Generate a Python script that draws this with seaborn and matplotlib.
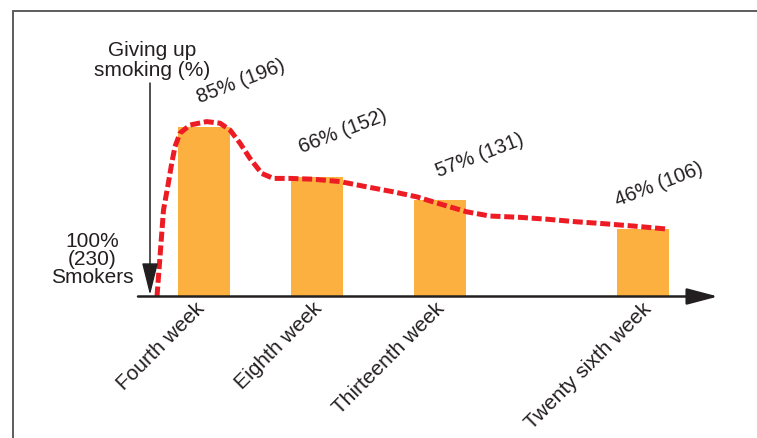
import matplotlib
matplotlib.use("Agg")
import matplotlib.pyplot as plt
from matplotlib.lines import Line2D
from matplotlib.transforms import ScaledTranslation
import pandas as pd
import seaborn as sns

# ---- data -------------------------------------------------------------
weeks = ["Fourth week", "Eighth week", "Thirteenth week", "Twenty sixth week"]
quit_pct = [85, 66, 57, 46]          # % who gave up smoking
quit_count = [196, 152, 131, 106]    # number who gave up smoking
total_smokers = 230

# hand-drawn trend line running over the bars (x in slot units, y in %)
trend_x = [157, 163.5, 168.3, 171.7, 175, 180, 190, 206.7, 220, 230, 240,
           250, 261.7, 273.3, 290, 313.3, 340, 366.7, 393.3, 416.7, 440,
           466.7, 490, 520, 546.7, 576.7, 600, 633, 668.3]
trend_pct = [20.4, 53.3, 63.4, 71.0, 77.4, 82.5, 85.6, 86.9, 86.3, 83.7, 78.7,
             72.9, 67.2, 65.3, 65.3, 65.0, 64.1, 62.1, 60.2, 58.3, 55.6,
             52.6, 51.0, 50.5, 49.8, 48.8, 48.2, 47.2, 46.0]

# ---- layout -----------------------------------------------------------
W, H, DPI = 757, 438, 100
slot_x = [204, 316.5, 440, 643]       # schematic (non-proportional) spacing
label_dx = [37, 26, 40, 16]           # nudges for the value labels
tick_dx = [-2, 3, 2, 5]               # nudges for the category labels (px)
base_px = 296.5                       # baseline height in pixels from the top
y0 = 20.4                             # % value sitting on the baseline
px_per_pct = 2.63

ink = "#231f20"
bar_col = "#fbb040"
line_col = "#ed1c24"

sns.set_theme(style="white")
plt.rcParams["font.family"] = ["Liberation Sans", "DejaVu Sans"]

fig = plt.figure(figsize=(W / DPI, H / DPI), dpi=DPI)
bottom = 1 - base_px / H
ax = fig.add_axes([0, bottom, 1, 1 - bottom])
ax.set_facecolor("none")

df = pd.DataFrame({"slot": slot_x, "pct": quit_pct, "week": weeks})
sns.barplot(data=df, x="slot", y="pct", native_scale=True,
            width=52 / 112.5, color=bar_col, saturation=1, errorbar=None,
            linewidth=0, ax=ax)

trend = pd.DataFrame({"x": trend_x, "y": trend_pct})
sns.lineplot(data=trend, x="x", y="y", estimator=None, sort=False,
             color=line_col, lw=3.6, dashes=False, ax=ax)
tl = ax.lines[-1]
tl.set_dashes((2.0, 0.75))
tl.set_dash_capstyle("butt")
tl.set_solid_joinstyle("round")
tl.set_clip_on(False)

ax.set_xlim(0, W)
ax.set_ylim(y0, y0 + base_px / px_per_pct)
ax.set_xlabel("")
ax.set_ylabel("")
ax.set_yticks([])
for s in ax.spines.values():
    s.set_visible(False)

# category labels along the baseline
ax.set_xticks(slot_x)
ax.set_xticklabels(weeks, rotation=45, ha="right", va="center",
                   rotation_mode="anchor", fontsize=15, color=ink)
ax.tick_params(axis="x", length=0, pad=6.8)
for lbl, dx in zip(ax.get_xticklabels(), tick_dx):
    lbl.set_transform(lbl.get_transform()
                      + ScaledTranslation(dx / DPI, 0, fig.dpi_scale_trans))

# value labels above the bars
for x, p, n, dx in zip(slot_x, quit_pct, quit_count, label_dx):
    ax.text(x + dx, p + 17, f"{p}% ({n})", rotation=21, ha="center",
            va="center", rotation_mode="anchor", fontsize=14.5, color=ink,
            clip_on=False)

# horizontal axis arrow
ax.annotate("", xy=(718, y0), xytext=(138, y0), annotation_clip=False,
            arrowprops=dict(arrowstyle="-|>,head_length=1.9,head_width=0.5",
                            mutation_scale=10, lw=1.8, color=ink,
                            shrinkA=0, shrinkB=0))
# vertical arrow pointing down to the baseline
ax.annotate("", xy=(150, y0 + 1.5 / px_per_pct),
            xytext=(150, y0 + (base_px - 83) / px_per_pct),
            annotation_clip=False,
            arrowprops=dict(arrowstyle="-|>,head_length=2.0,head_width=0.5",
                            mutation_scale=10, lw=1.1, color=ink,
                            shrinkA=0, shrinkB=0))

fig.text(152 / W, 1 - 75.5 / H, "Giving up\nsmoking (%)", ha="center",
         va="baseline", multialignment="center", fontsize=15,
         linespacing=1.0, color=ink)
fig.text(92.5 / W, 1 - 283.3 / H, f"100%\n({total_smokers})\nSmokers",
         ha="center", va="baseline", multialignment="center", fontsize=15,
         linespacing=0.95, color=ink)

# panel frame (top and left edges)
frame = "#5c5c5c"
fig.add_artist(Line2D([12.7 / W, 1], [1 - 11 / H] * 2,
                      transform=fig.transFigure, color=frame, lw=1.4))
fig.add_artist(Line2D([12.7 / W] * 2, [0, 1 - 11 / H],
                      transform=fig.transFigure, color=frame, lw=1.4))

fig.savefig("out.png", dpi=DPI)
